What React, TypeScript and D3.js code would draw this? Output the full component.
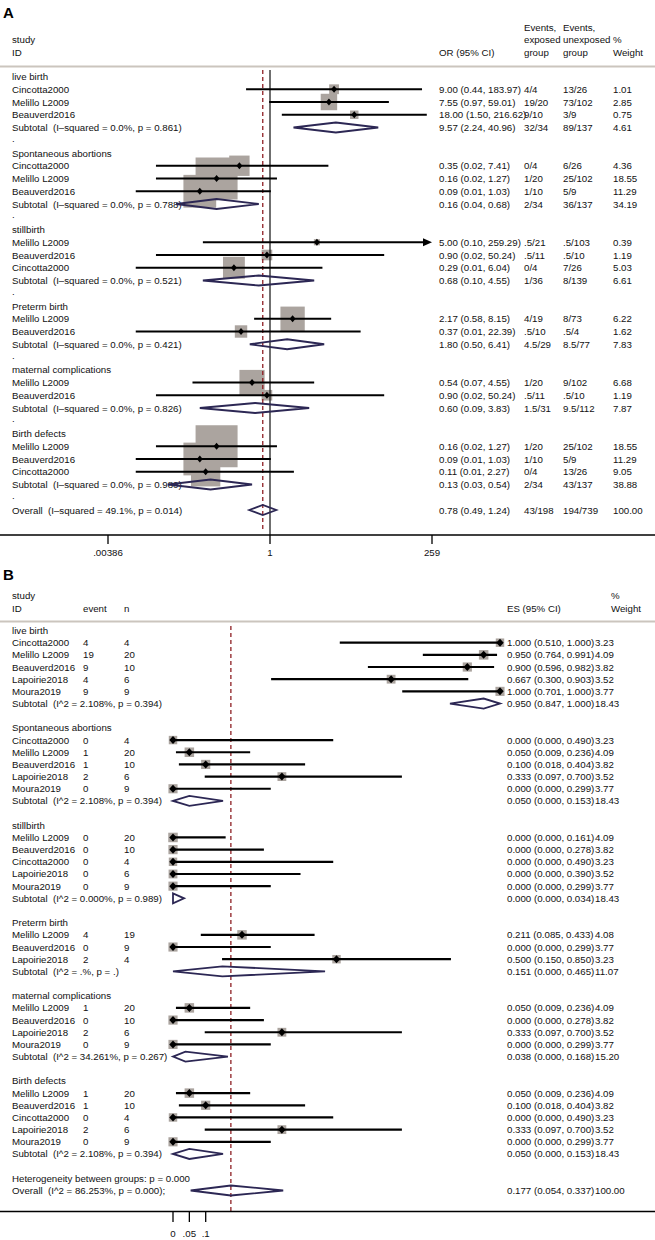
import React from "react";
import * as d3 from "d3";

const FONT = "'Liberation Sans', Arial, Helvetica, sans-serif";
const FS = 9.7;

// ---------- Panel A data ----------
const groupNamesA = ["live birth", "Spontaneous abortions", "stillbirth", "Preterm birth", "maternal complications", "Birth defects"];
// [study, OR, lo, hi, exposed events, unexposed events, weight]
const A_live = [
  ["Cincotta2000", 9.0, 0.44, 183.97, "4/4", "13/26", 1.01],
  ["Melillo L2009", 7.55, 0.97, 59.01, "19/20", "73/102", 2.85],
  ["Beauverd2016", 18.0, 1.5, 216.62, "9/10", "3/9", 0.75],
];
const A_spont = [
  ["Cincotta2000", 0.35, 0.02, 7.41, "0/4", "6/26", 4.36],
  ["Melillo L2009", 0.16, 0.02, 1.27, "1/20", "25/102", 18.55],
  ["Beauverd2016", 0.09, 0.01, 1.03, "1/10", "5/9", 11.29],
];
const A_still = [
  ["Melillo L2009", 5.0, 0.1, 259.29, ".5/21", ".5/103", 0.39],
  ["Beauverd2016", 0.9, 0.02, 50.24, ".5/11", ".5/10", 1.19],
  ["Cincotta2000", 0.29, 0.01, 6.04, "0/4", "7/26", 5.03],
];
const A_preterm = [
  ["Melillo L2009", 2.17, 0.58, 8.15, "4/19", "8/73", 6.22],
  ["Beauverd2016", 0.37, 0.01, 22.39, ".5/10", ".5/4", 1.62],
];
const A_maternal = [
  ["Melillo L2009", 0.54, 0.07, 4.55, "1/20", "9/102", 6.68],
  ["Beauverd2016", 0.9, 0.02, 50.24, ".5/11", ".5/10", 1.19],
];
const A_defects = [
  ["Melillo L2009", 0.16, 0.02, 1.27, "1/20", "25/102", 18.55],
  ["Beauverd2016", 0.09, 0.01, 1.03, "1/10", "5/9", 11.29],
  ["Cincotta2000", 0.11, 0.01, 2.27, "0/4", "13/26", 9.05],
];
// [I-squared, p, OR, lo, hi, exposed, unexposed, weight]
const A_subtotals = [
  ["0.0%", "0.861", 9.57, 2.24, 40.96, "32/34", "89/137", 4.61],
  ["0.0%", "0.788", 0.16, 0.04, 0.68, "2/34", "36/137", 34.19],
  ["0.0%", "0.521", 0.68, 0.1, 4.55, "1/36", "8/139", 6.61],
  ["0.0%", "0.421", 1.8, 0.5, 6.41, "4.5/29", "8.5/77", 7.83],
  ["0.0%", "0.826", 0.6, 0.09, 3.83, "1.5/31", "9.5/112", 7.87],
  ["0.0%", "0.980", 0.13, 0.03, 0.54, "2/34", "43/137", 38.88],
];
const A_overall = ["49.1%", "0.014", 0.78, 0.49, 1.24, "43/198", "194/739", 100.0];
const A_ticks = [0.00386, 1, 259];
const A_tickLabels = [".00386", "1", "259"];

// ---------- Panel B data ----------
const groupNamesB = ["live birth", "Spontaneous abortions", "stillbirth", "Preterm birth", "maternal complications", "Birth defects"];
// [study, event, n, ES, lo, hi, weight]
const B_live = [
  ["Cincotta2000", 4, 4, 1.0, 0.51, 1.0, 3.23],
  ["Melillo L2009", 19, 20, 0.95, 0.764, 0.991, 4.09],
  ["Beauverd2016", 9, 10, 0.9, 0.596, 0.982, 3.82],
  ["Lapoirie2018", 4, 6, 0.667, 0.3, 0.903, 3.52],
  ["Moura2019", 9, 9, 1.0, 0.701, 1.0, 3.77],
];
const B_spont = [
  ["Cincotta2000", 0, 4, 0.0, 0.0, 0.49, 3.23],
  ["Melillo L2009", 1, 20, 0.05, 0.009, 0.236, 4.09],
  ["Beauverd2016", 1, 10, 0.1, 0.018, 0.404, 3.82],
  ["Lapoirie2018", 2, 6, 0.333, 0.097, 0.7, 3.52],
  ["Moura2019", 0, 9, 0.0, 0.0, 0.299, 3.77],
];
const B_still = [
  ["Melillo L2009", 0, 20, 0.0, 0.0, 0.161, 4.09],
  ["Beauverd2016", 0, 10, 0.0, 0.0, 0.278, 3.82],
  ["Cincotta2000", 0, 4, 0.0, 0.0, 0.49, 3.23],
  ["Lapoirie2018", 0, 6, 0.0, 0.0, 0.39, 3.52],
  ["Moura2019", 0, 9, 0.0, 0.0, 0.299, 3.77],
];
const B_preterm = [
  ["Melillo L2009", 4, 19, 0.211, 0.085, 0.433, 4.08],
  ["Beauverd2016", 0, 9, 0.0, 0.0, 0.299, 3.77],
  ["Lapoirie2018", 2, 4, 0.5, 0.15, 0.85, 3.23],
];
const B_maternal = [
  ["Melillo L2009", 1, 20, 0.05, 0.009, 0.236, 4.09],
  ["Beauverd2016", 0, 10, 0.0, 0.0, 0.278, 3.82],
  ["Lapoirie2018", 2, 6, 0.333, 0.097, 0.7, 3.52],
  ["Moura2019", 0, 9, 0.0, 0.0, 0.299, 3.77],
];
const B_defects = [
  ["Melillo L2009", 1, 20, 0.05, 0.009, 0.236, 4.09],
  ["Beauverd2016", 1, 10, 0.1, 0.018, 0.404, 3.82],
  ["Cincotta2000", 0, 4, 0.0, 0.0, 0.49, 3.23],
  ["Lapoirie2018", 2, 6, 0.333, 0.097, 0.7, 3.52],
  ["Moura2019", 0, 9, 0.0, 0.0, 0.299, 3.77],
];
// [I^2, p, ES, lo, hi, weight]
const B_subtotals = [
  ["2.108", "0.394", 0.95, 0.847, 1.0, 18.43],
  ["2.108", "0.394", 0.05, 0.0, 0.153, 18.43],
  ["0.000", "0.989", 0.0, 0.0, 0.034, 18.43],
  [".", ".", 0.151, 0.0, 0.465, 11.07],
  ["34.261", "0.267", 0.038, 0.0, 0.168, 15.2],
  ["2.108", "0.394", 0.05, 0.0, 0.153, 18.43],
];
const B_heterogeneity = "0.000";
const B_overall = ["86.253", "0.000", 0.177, 0.054, 0.337, 100.0];
const B_ticks = [0, 0.05, 0.1];
const B_tickLabels = ["0", ".05", ".1"];

const A_groups = [A_live, A_spont, A_still, A_preterm, A_maternal, A_defects];
const B_groups = [B_live, B_spont, B_still, B_preterm, B_maternal, B_defects];

const BOX = "#aba49f";
const DIAM = "#2c2754";
const RED = "#8e1f24";
const f2 = d3.format(".2f");
const f3 = d3.format(".3f");

function T({ x, y, children, anchor = "start", size = FS, weight = "normal" }: any) {
  return (
    <text x={x} y={y + 3.5} fontSize={size} fontWeight={weight} textAnchor={anchor} fontFamily={FONT} fill="#111" style={{ whiteSpace: "pre" }}>
      {children}
    </text>
  );
}

function diamondPath(xl: number, xm: number, xr: number, y: number, h: number) {
  return `M${xl},${y}L${xm},${y - h}L${xr},${y}L${xm},${y + h}Z`;
}

function PanelA() {
  const x = d3.scaleLog().domain([A_ticks[0], A_ticks[2]]).range([108, 432]);
  const [dMin, dMax] = x.domain();
  const y = d3.scaleLinear().domain([0, 34]).range([76.5, 510]);
  const side = d3.scaleSqrt().domain([0, 18.55]).range([0, 42]);
  const rows: any[] = [];
  let i = 0;
  A_groups.forEach((g, gi) => {
    rows.push({ kind: "group", i: i++, label: groupNamesA[gi] });
    g.forEach((s) => rows.push({ kind: "study", i: i++, s }));
    rows.push({ kind: "sub", i: i++, s: A_subtotals[gi] });
    rows.push({ kind: "dot", i: i++ });
  });
  rows.push({ kind: "overall", i: i++, s: A_overall });
  const studies = rows.filter((r) => r.kind === "study");
  const xOne = x(1);
  const xOverall = x(A_overall[2] as number);
  const colOR = 439, colE = 524, colU = 563, colW = 613;
  return (
    <g>
      <text x={3} y={18} fontSize={15} fontWeight="bold" fontFamily={FONT}>A</text>
      <T x={colE} y={27}>Events,</T>
      <T x={colU} y={27}>Events,</T>
      <T x={12} y={39.5}>study</T>
      <T x={colE} y={39.5}>exposed</T>
      <T x={colU} y={39.5}>unexposed</T>
      <T x={colW} y={39.5}>%</T>
      <T x={12} y={52}>ID</T>
      <T x={colOR} y={52}>OR (95% CI)</T>
      <T x={colE} y={52}>group</T>
      <T x={colU} y={52}>group</T>
      <T x={colW} y={52}>Weight</T>
      <line x1={0} x2={655} y1={66.5} y2={66.5} stroke="#cbc5be" strokeWidth={2} />
      {studies.map((r, k) => {
        const sz = side(r.s[6]);
        return <rect key={"b" + k} x={x(r.s[1]) - sz / 2} y={y(r.i) - sz / 2} width={sz} height={sz} fill={BOX} />;
      })}
      <line x1={xOne} x2={xOne} y1={70} y2={535} stroke="#222" strokeWidth={1.3} />
      <line x1={xOverall} x2={xOverall} y1={70} y2={531} stroke={RED} strokeWidth={1.3} strokeDasharray="4,3" />
      {rows.map((r, k) => {
        const yy = y(r.i);
        if (r.kind === "group") return <T key={"t" + k} x={12} y={yy}>{r.label}</T>;
        if (r.kind === "dot") return <T key={"t" + k} x={12} y={yy - 2}>.</T>;
        const s = r.s;
        if (r.kind === "study")
          return (
            <g key={"t" + k}>
              <T x={12} y={yy}>{s[0]}</T>
              <T x={colOR} y={yy}>{`${f2(s[1])} (${f2(s[2])}, ${f2(s[3])})`}</T>
              <T x={colE} y={yy}>{s[4]}</T>
              <T x={colU} y={yy}>{s[5]}</T>
              <T x={colW} y={yy}>{f2(s[6])}</T>
            </g>
          );
        const lab = r.kind === "sub" ? `Subtotal  (I–squared = ${s[0]}, p = ${s[1]})` : `Overall  (I–squared = ${s[0]}, p = ${s[1]})`;
        return (
          <g key={"t" + k}>
            <T x={12} y={yy}>{lab}</T>
            <T x={colOR} y={yy}>{`${f2(s[2])} (${f2(s[3])}, ${f2(s[4])})`}</T>
            <T x={colE} y={yy}>{s[5]}</T>
            <T x={colU} y={yy}>{s[6]}</T>
            <T x={colW} y={yy}>{f2(s[7])}</T>
          </g>
        );
      })}
      {studies.map((r, k) => {
        const s = r.s;
        const yy = y(r.i);
        const lo = Math.max(s[2], dMin), hi = Math.min(s[3], dMax);
        const xl = x(lo), xr = x(hi), xm = x(s[1]);
        const arrow = s[3] > dMax;
        return (
          <g key={"c" + k}>
            <line x1={xl} x2={arrow ? xr - 6 : xr} y1={yy} y2={yy} stroke="#000" strokeWidth={1.8} />
            {arrow && <path d={`M${xr},${yy}L${xr - 9},${yy - 4}L${xr - 9},${yy + 4}Z`} fill="#000" />}
            <path d={diamondPath(xm - 3, xm, xm + 3, yy, 3.5)} fill="#000" />
          </g>
        );
      })}
      {rows.filter((r) => r.kind === "sub" || r.kind === "overall").map((r, k) => (
        <path key={"d" + k} d={diamondPath(x(r.s[3]), x(r.s[2]), x(r.s[4]), y(r.i), 5)} fill="none" stroke={DIAM} strokeWidth={1.8} />
      ))}
      <line x1={0} x2={655} y1={535} y2={535} stroke="#000" strokeWidth={1.5} />
      {A_ticks.map((t, k) => (
        <g key={"tk" + k}>
          <line x1={x(t)} x2={x(t)} y1={535} y2={544} stroke="#000" strokeWidth={1.3} />
          <T x={x(t)} y={552} anchor="middle">{A_tickLabels[k]}</T>
        </g>
      ))}
    </g>
  );
}

function PanelB() {
  const x = d3.scaleLinear().domain([0, 1]).range([173, 500]);
  const y = d3.scaleLinear().domain([0, 46]).range([630.5, 1190.5]);
  const side = d3.scaleSqrt().domain([0, 4.09]).range([0, 9.5]);
  const rows: any[] = [];
  let i = 0;
  B_groups.forEach((g, gi) => {
    rows.push({ kind: "group", i: i++, label: groupNamesB[gi] });
    g.forEach((s) => rows.push({ kind: "study", i: i++, s }));
    rows.push({ kind: "sub", i: i++, s: B_subtotals[gi] });
    i++;
  });
  rows.push({ kind: "het", i: i++ });
  rows.push({ kind: "overall", i: i++, s: B_overall });
  const studies = rows.filter((r) => r.kind === "study");
  const xOverall = x(B_overall[2] as number);
  const colEv = 83, colN = 124, colES = 507, colW = 595, colWh = 611;
  return (
    <g>
      <text x={3} y={580} fontSize={15} fontWeight="bold" fontFamily={FONT}>B</text>
      <T x={12} y={595}>study</T>
      <T x={colWh} y={595}>%</T>
      <T x={12} y={608}>ID</T>
      <T x={colEv} y={608}>event</T>
      <T x={colN} y={608}>n</T>
      <T x={colES} y={608}>ES (95% CI)</T>
      <T x={colWh} y={608}>Weight</T>
      <line x1={0} x2={655} y1={621.5} y2={621.5} stroke="#cbc5be" strokeWidth={2} />
      {studies.map((r, k) => {
        const sz = side(r.s[6]);
        return <rect key={"b" + k} x={x(r.s[3]) - sz / 2} y={y(r.i) - sz / 2} width={sz} height={sz} fill={BOX} />;
      })}
      <line x1={xOverall} x2={xOverall} y1={626} y2={1211} stroke={RED} strokeWidth={1.3} strokeDasharray="4,3" />
      {rows.map((r, k) => {
        const yy = y(r.i);
        if (r.kind === "group") return <T key={"t" + k} x={12} y={yy}>{r.label}</T>;
        if (r.kind === "het") return <T key={"t" + k} x={12} y={yy}>{`Heterogeneity between groups: p = ${B_heterogeneity}`}</T>;
        const s = r.s;
        if (r.kind === "study")
          return (
            <g key={"t" + k}>
              <T x={12} y={yy}>{s[0]}</T>
              <T x={colEv} y={yy}>{String(s[1])}</T>
              <T x={colN} y={yy}>{String(s[2])}</T>
              <T x={colES} y={yy}>{`${f3(s[3])} (${f3(s[4])}, ${f3(s[5])})`}</T>
              <T x={colW} y={yy}>{f2(s[6])}</T>
            </g>
          );
        const lab = r.kind === "sub" ? `Subtotal  (I^2 = ${s[0]}%, p = ${s[1]})` : `Overall  (I^2 = ${s[0]}%, p = ${s[1]});`;
        return (
          <g key={"t" + k}>
            <T x={12} y={yy}>{lab}</T>
            <T x={colES} y={yy}>{`${f3(s[2])} (${f3(s[3])}, ${f3(s[4])})`}</T>
            <T x={colW} y={yy}>{f2(s[5])}</T>
          </g>
        );
      })}
      {studies.map((r, k) => {
        const s = r.s;
        const yy = y(r.i);
        const xm = x(s[3]);
        return (
          <g key={"c" + k}>
            <line x1={x(s[4])} x2={x(s[5])} y1={yy} y2={yy} stroke="#000" strokeWidth={2.2} />
            <path d={diamondPath(xm - 3.7, xm, xm + 3.7, yy, 4)} fill="#000" />
          </g>
        );
      })}
      {rows.filter((r) => r.kind === "sub" || r.kind === "overall").map((r, k) => (
        <path key={"d" + k} d={diamondPath(x(r.s[3]), x(r.s[2]), x(r.s[4]), y(r.i), 5)} fill="none" stroke={DIAM} strokeWidth={1.8} />
      ))}
      <line x1={0} x2={655} y1={1211.5} y2={1211.5} stroke="#000" strokeWidth={1.5} />
      {B_ticks.map((t, k) => (
        <g key={"tk" + k}>
          <line x1={x(t)} x2={x(t)} y1={1211.5} y2={1222} stroke="#000" strokeWidth={1.3} />
          <T x={x(t)} y={1233} anchor="middle">{B_tickLabels[k]}</T>
        </g>
      ))}
    </g>
  );
}

export default function App() {
  return (
    <svg width={655} height={1240} style={{ position: "absolute", left: 0, top: 0, background: "#fff" }}>
      <rect width={655} height={1240} fill="#fff" />
      <PanelA />
      <PanelB />
    </svg>
  );
}
